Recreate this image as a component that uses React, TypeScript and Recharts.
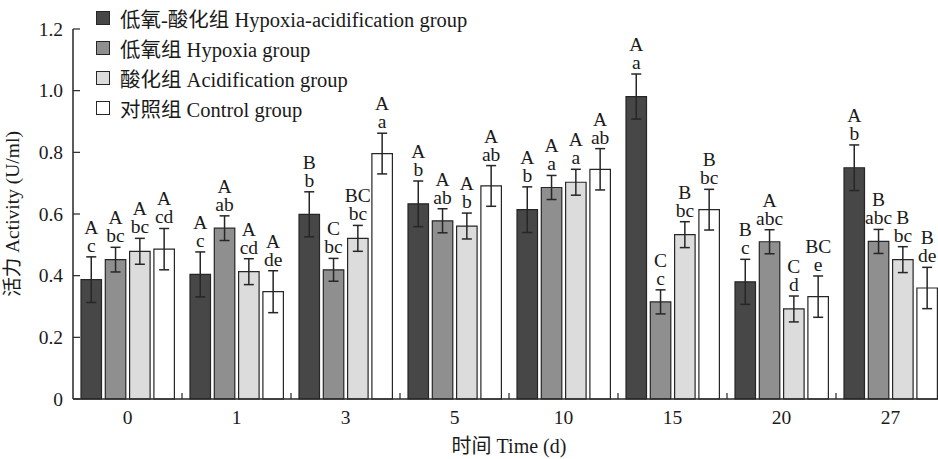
import React from 'react';
import { BarChart, Bar, XAxis, YAxis, ErrorBar, LabelList, Legend, Label } from 'recharts';

const categories = ['0', '1', '3', '5', '10', '15', '20', '27'];

const seriesNames = [
  '低氧-酸化组 Hypoxia-acidification group',
  '低氧组 Hypoxia group',
  '酸化组 Acidification group',
  '对照组 Control group',
];

const haValues = [0.387, 0.404, 0.599, 0.633, 0.614, 0.981, 0.380, 0.750];
const haErr = [0.074, 0.073, 0.073, 0.074, 0.074, 0.073, 0.073, 0.074];
const hyValues = [0.452, 0.554, 0.419, 0.578, 0.686, 0.315, 0.510, 0.511];
const hyErr = [0.040, 0.040, 0.037, 0.039, 0.039, 0.039, 0.039, 0.039];
const acValues = [0.479, 0.413, 0.521, 0.561, 0.703, 0.533, 0.292, 0.452];
const acErr = [0.042, 0.042, 0.042, 0.042, 0.042, 0.042, 0.042, 0.042];
const ctValues = [0.486, 0.348, 0.796, 0.691, 0.745, 0.614, 0.332, 0.360];
const ctErr = [0.067, 0.068, 0.066, 0.066, 0.067, 0.066, 0.067, 0.067];

const haUpper = ['A', 'A', 'B', 'A', 'A', 'A', 'B', 'A'];
const haLower = ['c', 'c', 'b', 'b', 'b', 'a', 'c', 'b'];
const hyUpper = ['A', 'A', 'C', 'A', 'A', 'C', 'A', 'B'];
const hyLower = ['bc', 'ab', 'bc', 'ab', 'a', 'c', 'abc', 'abc'];
const acUpper = ['A', 'A', 'BC', 'A', 'A', 'B', 'C', 'B'];
const acLower = ['bc', 'cd', 'bc', 'b', 'a', 'bc', 'd', 'bc'];
const ctUpper = ['A', 'A', 'A', 'A', 'A', 'B', 'BC', 'B'];
const ctLower = ['cd', 'de', 'a', 'ab', 'ab', 'bc', 'e', 'de'];

const yTicks = [0, 0.2, 0.4, 0.6, 0.8, 1.0, 1.2];

const data = categories.map((c, i) => ({
  time: c,
  ha: haValues[i], haErr: haErr[i],
  hy: hyValues[i], hyErr: hyErr[i],
  ac: acValues[i], acErr: acErr[i],
  ct: ctValues[i], ctErr: ctErr[i],
}));

const FONT = "'Liberation Serif', 'Times New Roman', 'Noto Sans CJK SC', serif";
const TXT = '#1a1a1a';
const STROKE = '#262626';
const fills = ['#474747', '#8f8f8f', '#dcdcdc', '#ffffff'];

const CHART_W = 960;
const CHART_H = 459;
const M_TOP = 29;
const M_RIGHT = 15;
const Y_W = 73;
const X_H = 60;
const PLOT_W = CHART_W - M_RIGHT - Y_W;
const PLOT_H = CHART_H - M_TOP - X_H;
const BAND = PLOT_W / categories.length;
const PX_PER_UNIT = PLOT_H / 1.2;

const makeLabel = (errs: number[], upper: string[], lower: string[]) => (props: any) => {
  const { x, y, width, index } = props;
  const cx = Number(x) + Number(width) / 2;
  const top = Number(y) - errs[index] * PX_PER_UNIT;
  const lowY = top - 5;
  const upY = lowY - 18;
  return (
    <g>
      <text x={cx} y={upY} textAnchor="middle" fontFamily={FONT} fontSize={19.5} fill={TXT}>{upper[index]}</text>
      <text x={cx} y={lowY} textAnchor="middle" fontFamily={FONT} fontSize={19.5} fill={TXT}>{lower[index]}</text>
    </g>
  );
};

const YTick = (props: any) => {
  const { x, y, payload } = props;
  const ax = x + 10;
  const v = payload.value;
  return (
    <g>
      <line x1={ax} x2={ax + 7} y1={y} y2={y} stroke={STROKE} strokeWidth={1.2} />
      <text x={x} y={y + 6.5} textAnchor="end" fontFamily={FONT} fontSize={19.5} fill={TXT}>
        {v === 0 ? '0' : v.toFixed(1)}
      </text>
    </g>
  );
};

const XTick = (props: any) => {
  const { x, y, payload, index } = props;
  const bx = x - BAND / 2;
  return (
    <g>
      {index > 0 && <line x1={bx} x2={bx} y1={y} y2={y - 6} stroke={STROKE} strokeWidth={1.2} />}
      <text x={x} y={y + 25} textAnchor="middle" fontFamily={FONT} fontSize={19.5} fill={TXT}>
        {payload.value}
      </text>
    </g>
  );
};

const LegendContent = () => (
  <div style={{ fontFamily: FONT, fontSize: 20.5, color: TXT }}>
    {seriesNames.map((n, i) => (
      <div key={n} style={{ display: 'flex', alignItems: 'center', height: 30, whiteSpace: 'nowrap' }}>
        <span style={{ display: 'inline-block', width: 12, height: 12, background: fills[i], border: `1.5px solid ${STROKE}`, marginRight: 10 }} />
        <span>{n}</span>
      </div>
    ))}
  </div>
);

export default function App() {
  return (
    <div style={{ position: 'absolute', left: 0, top: 0, width: 938, height: 459, overflow: 'hidden', background: '#fff' }}>
      <BarChart
        width={CHART_W}
        height={CHART_H}
        data={data}
        margin={{ top: M_TOP, right: M_RIGHT, left: 0, bottom: 0 }}
        barSize={20.5}
        barGap={3.8}
      >
        <XAxis
          dataKey="time"
          height={X_H}
          tickSize={0}
          tickMargin={0}
          tick={<XTick />}
          axisLine={{ stroke: STROKE, strokeWidth: 1.5 }}
          interval={0}
        >
          <Label value="时间 Time (d)" position="insideBottom" offset={6} style={{ fontFamily: FONT, fontSize: 20, fill: TXT }} />
        </XAxis>
        <YAxis
          width={Y_W}
          domain={[0, 1.2]}
          ticks={yTicks}
          tickSize={0}
          tickMargin={10}
          tick={<YTick />}
          axisLine={{ stroke: STROKE, strokeWidth: 1.5 }}
          interval={0}
        >
          <Label value="活力 Activity (U/ml)" angle={-90} position="insideLeft" offset={12} style={{ fontFamily: FONT, fontSize: 19.5, fill: TXT, textAnchor: 'middle' }} />
        </YAxis>
        <Legend
          layout="vertical"
          align="center"
          verticalAlign="middle"
          wrapperStyle={{ left: 96, top: 3, width: 440 }}
          content={<LegendContent />}
        />
        <Bar dataKey="ha" name={seriesNames[0]} fill={fills[0]} stroke={STROKE} strokeWidth={1.2} isAnimationActive={false}>
          <ErrorBar dataKey="haErr" width={5} stroke={STROKE} strokeWidth={1.5} isAnimationActive={false} />
          <LabelList content={makeLabel(haErr, haUpper, haLower)} />
        </Bar>
        <Bar dataKey="hy" name={seriesNames[1]} fill={fills[1]} stroke={STROKE} strokeWidth={1.2} isAnimationActive={false}>
          <ErrorBar dataKey="hyErr" width={5} stroke={STROKE} strokeWidth={1.5} isAnimationActive={false} />
          <LabelList content={makeLabel(hyErr, hyUpper, hyLower)} />
        </Bar>
        <Bar dataKey="ac" name={seriesNames[2]} fill={fills[2]} stroke={STROKE} strokeWidth={1.2} isAnimationActive={false}>
          <ErrorBar dataKey="acErr" width={5} stroke={STROKE} strokeWidth={1.5} isAnimationActive={false} />
          <LabelList content={makeLabel(acErr, acUpper, acLower)} />
        </Bar>
        <Bar dataKey="ct" name={seriesNames[3]} fill={fills[3]} stroke={STROKE} strokeWidth={1.2} isAnimationActive={false}>
          <ErrorBar dataKey="ctErr" width={5} stroke={STROKE} strokeWidth={1.5} isAnimationActive={false} />
          <LabelList content={makeLabel(ctErr, ctUpper, ctLower)} />
        </Bar>
      </BarChart>
    </div>
  );
}
